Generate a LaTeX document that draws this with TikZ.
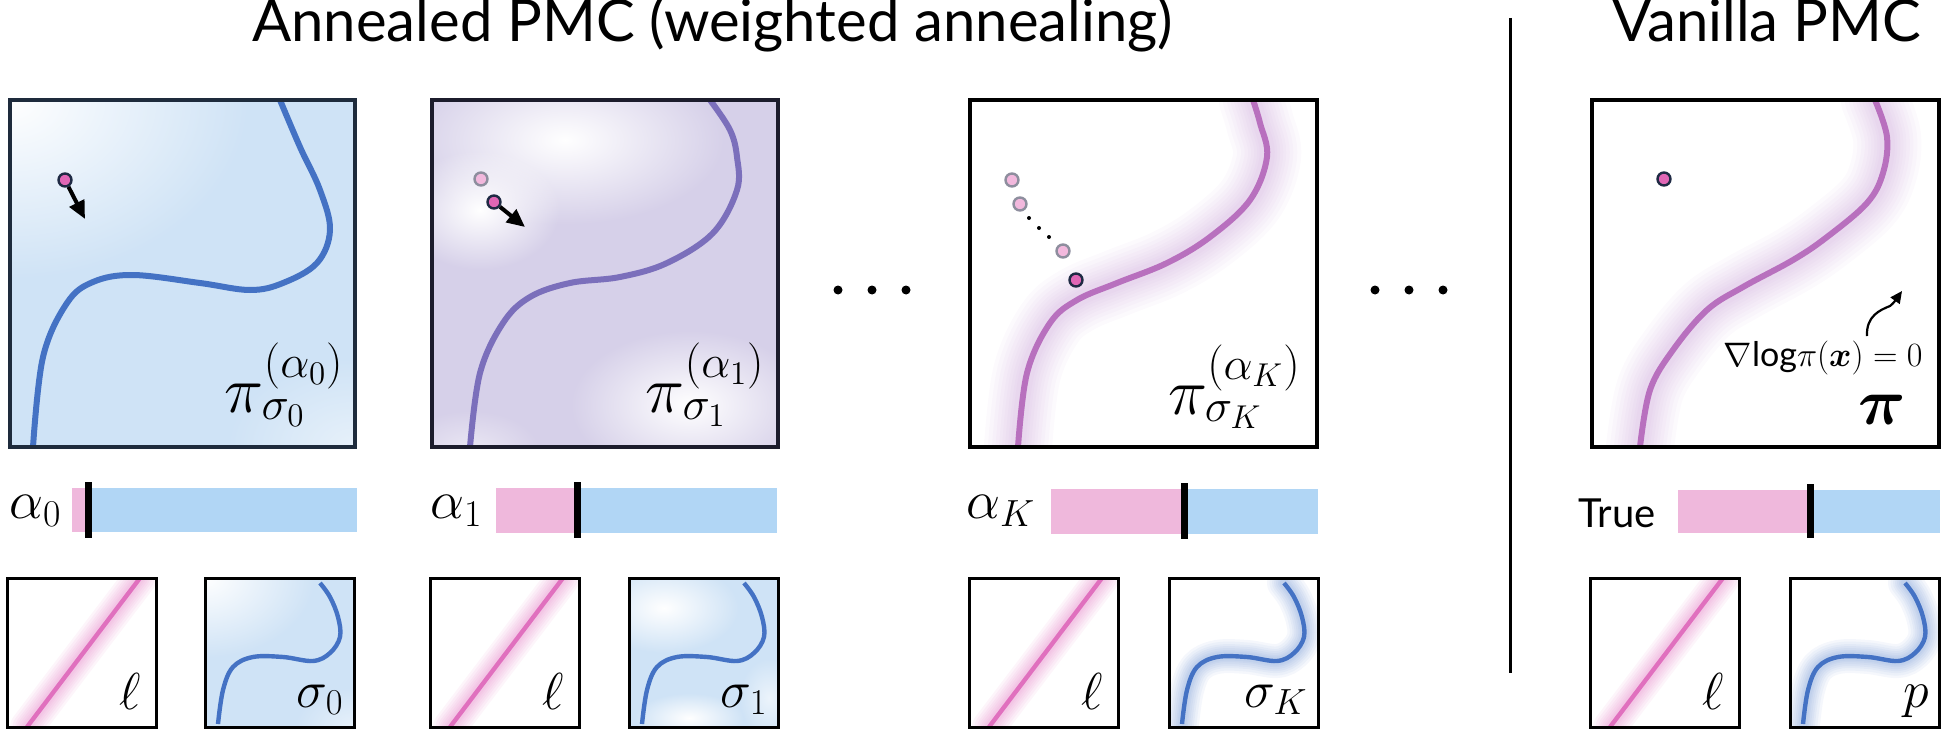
\RequirePackage{fix-cm}
\documentclass[tikz,border=0pt]{standalone}
\usepackage{amsmath,amssymb}
\usepackage{fontspec}
\newfontfamily\lato{Lato}
\usetikzlibrary{arrows.meta,fadings}
\definecolor{curveblue}{HTML}{4472C4}
\definecolor{curvepurple}{HTML}{7B6FBB}
\definecolor{curveorchid}{HTML}{B870BE}
\definecolor{glowpurple}{HTML}{B47CC8}
\definecolor{linepink}{HTML}{E070BE}
\definecolor{bgblue}{HTML}{CFE3F6}
\definecolor{bglav}{HTML}{D6D0E9}
\definecolor{barpink}{HTML}{EFB8DC}
\definecolor{barblue}{HTML}{B1D6F5}
\definecolor{dotpink}{HTML}{E066B5}
\definecolor{dotfade}{HTML}{F2B8DD}
\definecolor{navy}{HTML}{1F2A44}
\definecolor{fadeedge}{HTML}{8E8E9E}
\definecolor{frameA}{HTML}{1E2B3C}
\definecolor{frameB}{HTML}{1C1C2C}
\tikzfading[name=blob, inner color=transparent!0, outer color=transparent!100]
% curves
\newcommand\CurveA[1]{\draw[#1] plot[smooth,tension=0.6] coordinates {(33,447)(43,357)(67,303)(93,282)(133,275)(200,283)(250,290)(283,283)(317,263)(330,230)(320,190)(300,147)(280,100)};}
\newcommand\CurveB[1]{\draw[#1] plot[smooth,tension=0.6] coordinates {(470,447)(480,373)(503,323)(530,297)(570,283)(620,277)(667,263)(713,233)(737,190)(737,157)(730,130)(710,100)};}
\newcommand\CurveC[1]{\draw[#1] plot[smooth,tension=0.6] coordinates {(1018,447)(1027,373)(1050,323)(1077,300)(1117,283)(1167,263)(1210,237)(1250,200)(1267,157)(1260,123)(1253,100)};}
\newcommand\CurveD[1]{\draw[#1] plot[smooth,tension=0.6] coordinates {(1640,447)(1650,390)(1673,350)(1707,310)(1743,287)(1793,260)(1827,237)(1867,203)(1883,173)(1887,137)(1875,100)};}
\newcommand\SigCurve[1]{\draw[#1] plot[smooth,tension=0.6] coordinates {(13,146)(18,112)(28,89)(48,79)(78,79)(108,83)(125,75)(135,59)(133,39)(125,19)(115,5)};}
\newcommand\Lpanel[3]{%
\begin{scope}[shift={(#2,#3)}]
 \begin{scope}
  \clip (0,0) rectangle (149,149);
  \foreach \w in {17,14.5,12,10,8,6,4.5}{\draw[linepink,line width=\w pt,opacity=0.07,line cap=round] (20,149) -- (133,0);}
  \draw[linepink,line width=2.2pt] (20,149) -- (133,0);
 \end{scope}
 \draw[smallframe] (0,0) rectangle (149,149);
 \node[smlabel,anchor=base east] (#1) at (134,131) {$\ell$};
\end{scope}}
\newcommand\Spanel[5]{%
\begin{scope}[shift={(#2,#3)}]
 \begin{scope}
  \clip (0,0) rectangle (149,149);
  #5
  \SigCurve{curveblue,line width=2.2pt}
 \end{scope}
 \draw[smallframe] (0,0) rectangle (149,149);
 \node[smlabel,anchor=base east] (#1) at (139,129) {#4};
\end{scope}}
\newcommand\BlueGrad{\fill[bgblue] (0,0) rectangle (149,149);
  \fill[white,path fading=blob] (0,0) ellipse (110 and 80);
  \fill[white,opacity=0.5,path fading=blob] (149,149) ellipse (60 and 40);}
\newcommand\BlueSpots{\fill[bgblue] (0,0) rectangle (149,149);
  \fill[white,path fading=blob] (35,30) ellipse (75 and 45);
  \fill[white,path fading=blob] (60,140) ellipse (55 and 25);
  \fill[white,opacity=0.6,path fading=blob] (140,120) ellipse (30 and 40);}
\newcommand\BlueGlow{\foreach \w in {17,14.5,12,10,8,6,4.5}{\SigCurve{curveblue,line width=\w pt,opacity=0.055,line cap=round}}}
\begin{document}
\begin{tikzpicture}[x=0.5pt,y=-0.5pt,
 smallframe/.style={draw=black,line width=1.5pt},
 pinkdot/.style={circle,fill=dotpink,draw=navy,line width=1.2pt,minimum size=6.5pt,inner sep=0pt},
 fadedot/.style={circle,fill=dotfade,draw=fadeedge,line width=1.2pt,minimum size=6.5pt,inner sep=0pt},
 tinydot/.style={circle,fill=black,minimum size=2pt,inner sep=0pt},
 ellipsisdot/.style={circle,fill=black,minimum size=4.5pt,inner sep=0pt},
 gradarrow/.style={line width=2pt,-{Triangle[length=9pt,width=8pt]}},
 bigmath/.style={inner sep=0pt,font=\fontsize{33}{38}\selectfont},
 barlabel/.style={inner sep=0pt,font=\fontsize{27}{32}\selectfont},
 smlabel/.style={inner sep=0pt,font=\fontsize{26}{30}\selectfont},
 titlefont/.style={inner sep=0pt,font=\lato\fontsize{29}{34}\selectfont},
 tickmark/.style={line width=3.5pt}]
\useasboundingbox (0,0) rectangle (1944,733);
% titles
\node[titlefont,anchor=base west] (title) at (252,42) {Annealed PMC (weighted annealing)};
\node[titlefont,anchor=base west] (vtitle) at (1612,42) {Vanilla PMC};
\coordinate (vtop) at (1510,18);
\coordinate (vbot) at (1510,673);
\draw[line width=1.5pt] (vtop) -- (vbot);
% panel 1
\begin{scope}
 \clip (10,100) rectangle (355,447);
 \fill[bgblue] (10,100) rectangle (355,447);
 \fill[white,path fading=blob] (10,100) ellipse (240 and 180);
 \fill[white,opacity=0.5,path fading=blob] (355,447) ellipse (130 and 90);
 \CurveA{curveblue,line width=3pt}
\end{scope}
\draw[frameA,line width=2pt] (10,100) rectangle (355,447);
\node[pinkdot] (d1) at (65,180) {};
\coordinate (t1) at (85,219);
\draw[gradarrow] (d1) -- (t1);
\node[bigmath,anchor=base east] (lab1) at (344,412) {$\pi^{(\alpha_0)}_{\sigma_0}$};
% panel 2
\begin{scope}
 \clip (432,100) rectangle (778,447);
 \fill[bglav] (432,100) rectangle (778,447);
 \fill[white,path fading=blob] (565,140) ellipse (160 and 85);
 \fill[white,path fading=blob] (480,210) ellipse (80 and 60);
 \fill[white,path fading=blob] (690,405) ellipse (120 and 75);
 \fill[white,opacity=0.5,path fading=blob] (470,450) ellipse (70 and 40);
 \CurveB{curvepurple,line width=3pt}
\end{scope}
\draw[frameB,line width=2pt] (432,100) rectangle (778,447);
\node[fadedot] (f2) at (481,179) {};
\node[pinkdot] (d2) at (494,202) {};
\coordinate (t2) at (525,227);
\draw[gradarrow] (d2) -- (t2);
\node[bigmath,anchor=base east] (lab2) at (765,412) {$\pi^{(\alpha_1)}_{\sigma_1}$};
% ellipsis 1
\node[ellipsisdot] (e1) at (838,290) {};
\node[ellipsisdot] (e2) at (872,290) {};
\node[ellipsisdot] (e3) at (906,290) {};
% panel 3
\begin{scope}
 \clip (970,100) rectangle (1317,447);
 \foreach \w in {34,30,26,22.5,19,16,13,10,7.5}{\CurveC{glowpurple,line width=\w pt,opacity=0.04,line cap=round}}
 \CurveC{curveorchid,line width=3pt}
\end{scope}
\draw[black,line width=2pt] (970,100) rectangle (1317,447);
\node[fadedot] (f3a) at (1012,180) {};
\node[fadedot] (f3b) at (1020,204) {};
\node[tinydot] (s3a) at (1029,218) {};
\node[tinydot] (s3b) at (1039,228) {};
\node[tinydot] (s3c) at (1049,237) {};
\node[fadedot] (f3c) at (1063,251) {};
\node[pinkdot] (d3) at (1076,280) {};
\node[bigmath,anchor=base east] (lab3) at (1301,414) {$\pi^{(\alpha_K)}_{\sigma_K}$};
% ellipsis 2
\node[ellipsisdot] (e4) at (1375,290) {};
\node[ellipsisdot] (e5) at (1409,290) {};
\node[ellipsisdot] (e6) at (1443,290) {};
% panel 4
\begin{scope}
 \clip (1592,100) rectangle (1939,447);
 \foreach \w in {34,30,26,22.5,19,16,13,10,7.5}{\CurveD{glowpurple,line width=\w pt,opacity=0.04,line cap=round}}
 \CurveD{curveorchid,line width=3pt}
\end{scope}
\draw[black,line width=2pt] (1592,100) rectangle (1939,447);
\node[pinkdot] (d4) at (1664,179) {};
\node[inner sep=0pt,anchor=base east,font=\fontsize{17}{20}\selectfont] (grad) at (1923,366) {$\nabla\text{\lato log}\pi(\boldsymbol{x})=0$};
\coordinate (c4a) at (1867,336);
\coordinate (c4b) at (1902,291);
\draw[line width=1.1pt,-{Triangle[length=6pt,width=5.5pt]}] (c4a) .. controls (1866,316) and (1880,310) .. (1890,306) .. controls (1894,303) and (1897,298) .. (c4b);
\node[bigmath,anchor=base east] (lab4) at (1906,424) {$\boldsymbol{\pi}$};
% bars
\node[barlabel,anchor=base west] (a0) at (9,518) {$\alpha_0$};
\fill[barpink] (72,488) rectangle (88,532);
\fill[barblue] (88,488) rectangle (357,532);
\draw[tickmark] (88,482) -- (88,538);
\node[barlabel,anchor=base west] (a1) at (430,518) {$\alpha_1$};
\fill[barpink] (496,488) rectangle (577,533);
\fill[barblue] (577,488) rectangle (777,533);
\draw[tickmark] (577,482) -- (577,538);
\node[barlabel,anchor=base west] (aK) at (966,518) {$\alpha_K$};
\fill[barpink] (1051,489) rectangle (1184,534);
\fill[barblue] (1184,489) rectangle (1318,534);
\draw[tickmark] (1184,483) -- (1184,539);
\node[inner sep=0pt,anchor=base west,font=\lato\fontsize{20}{24}\selectfont] (tru) at (1578,527) {True};
\fill[barpink] (1678,490) rectangle (1810,533);
\fill[barblue] (1810,490) rectangle (1940,533);
\draw[tickmark] (1810,484) -- (1810,538);
% small panels
\Lpanel{l0}{7}{578}
\Spanel{s0}{205}{578}{$\sigma_0$}{\BlueGrad}
\Lpanel{l1}{430}{578}
\Spanel{s1}{629}{578}{$\sigma_1$}{\BlueSpots}
\Lpanel{l2}{969}{578}
\Spanel{s2}{1169}{578}{$\sigma_K$}{\BlueGlow}
\Lpanel{l3}{1590}{578}
\Spanel{s3}{1790}{578}{$p$}{\BlueGlow}
\end{tikzpicture}
\end{document}
